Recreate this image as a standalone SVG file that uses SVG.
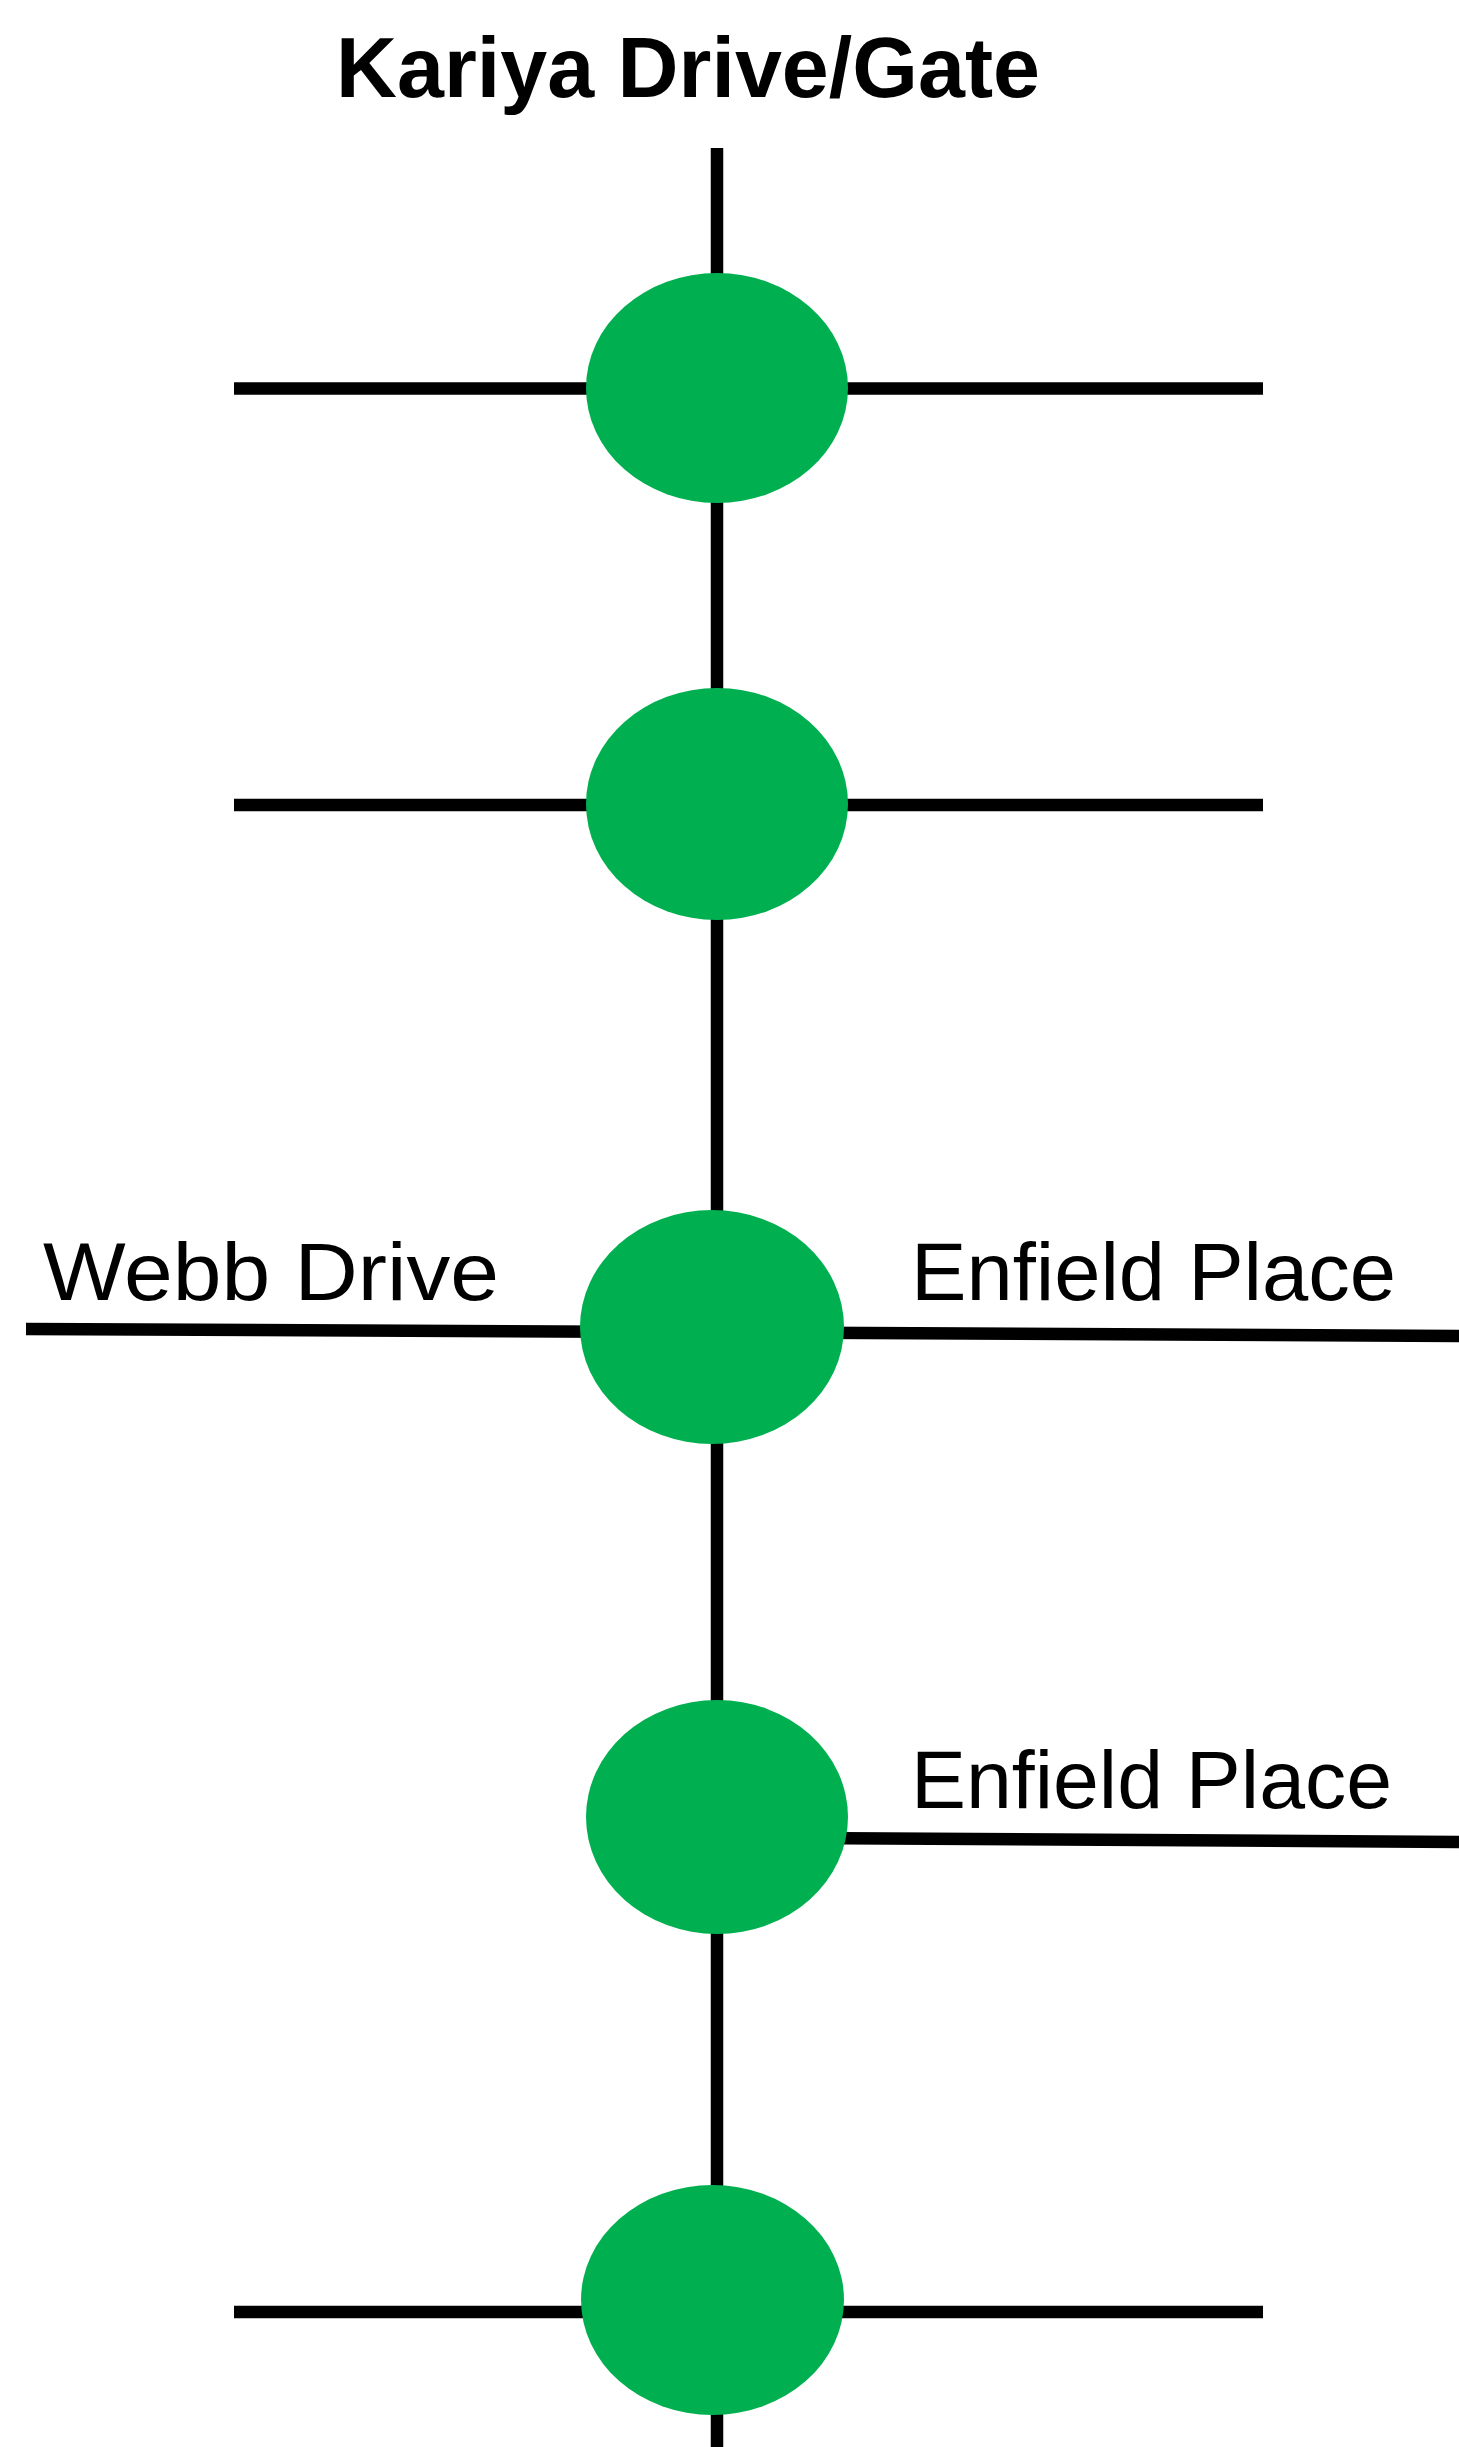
<svg xmlns="http://www.w3.org/2000/svg" width="1459" height="2447" viewBox="0 0 1459 2447">
<style>
.road{stroke:#000;stroke-width:12.5;fill:none}
.node{fill:#00B050}
.lbl{font-family:"Liberation Sans",Arial,sans-serif;font-size:82px;fill:#000}
.title{font-family:"Liberation Sans",Arial,sans-serif;font-size:86px;font-weight:bold;fill:#000}
</style>
<rect width="1459" height="2447" fill="#fff"/>
<text class="title" x="336" y="97" textLength="704" lengthAdjust="spacingAndGlyphs">Kariya Drive/Gate</text>
<g id="connectors">
<line class="road" x1="717" y1="148" x2="717" y2="2447"/>
<line class="road" x1="234" y1="388.5" x2="1263" y2="388.5"/>
<line class="road" x1="234" y1="805" x2="1263" y2="805"/>
<line class="road" x1="26" y1="1329" x2="1459" y2="1336"/>
<line class="road" x1="800" y1="1838" x2="1459" y2="1842"/>
<line class="road" x1="234" y1="2312" x2="1263" y2="2312"/>
</g>
<g id="node1"><ellipse class="node" cx="717" cy="388" rx="131" ry="115"/></g>
<g id="node2"><ellipse class="node" cx="717" cy="804" rx="131" ry="116"/></g>
<g id="node3"><ellipse class="node" cx="712" cy="1327" rx="132" ry="117"/>
<text class="lbl" x="43" y="1300" textLength="456" lengthAdjust="spacingAndGlyphs">Webb Drive</text>
<text class="lbl" x="911" y="1300" textLength="485" lengthAdjust="spacingAndGlyphs">Enfield Place</text></g>
<g id="node4"><ellipse class="node" cx="717" cy="1817" rx="131" ry="117"/>
<text class="lbl" x="911" y="1808" textLength="481" lengthAdjust="spacingAndGlyphs">Enfield Place</text></g>
<g id="node5"><ellipse class="node" cx="712.5" cy="2300" rx="131.5" ry="115"/></g>
</svg>
